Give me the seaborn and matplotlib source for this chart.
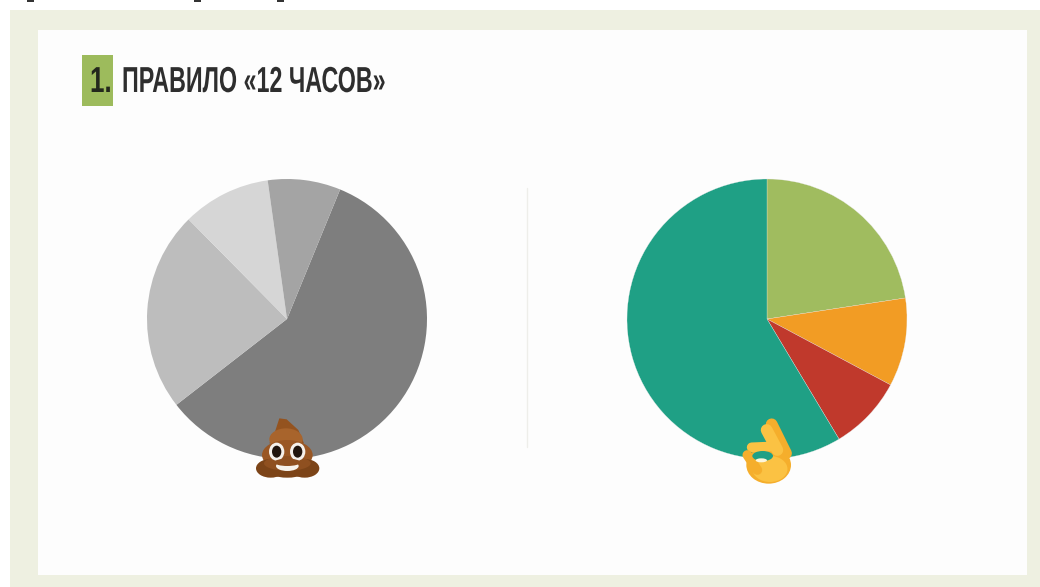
import matplotlib
matplotlib.use("Agg")
import matplotlib.pyplot as plt
from matplotlib.patches import Rectangle, Ellipse, Polygon
from matplotlib.patheffects import AbstractPathEffect
from matplotlib.transforms import Affine2D
import seaborn as sns

sns.set_theme(style="white")
plt.rcParams['font.family'] = ['Liberation Sans', 'DejaVu Sans']

HEADING_NUM = "1."
HEADING = "ПРАВИЛО «12 ЧАСОВ»"
bad_values = [58.3, 23.1, 10.2, 8.4]
bad_colors = ["#7e7e7e", "#bdbdbd", "#d6d6d6", "#a4a4a4"]
good_values = [22.6, 10.2, 8.6, 58.6]
good_colors = ["#a0bc5f", "#f29c24", "#c0392c", "#1fa085"]

W, H = 1040, 587
fig = plt.figure(figsize=(W / 100, H / 100), dpi=100, facecolor="white")
ax = fig.add_axes([0, 0, 1, 1])
ax.set_axis_off()


def Y(y):
    return H - y


class Narrow(AbstractPathEffect):
    """Squeeze the glyphs of a real text horizontally about x0 (pixels)."""

    def __init__(self, x0, sx):
        super().__init__()
        self.x0, self.sx = x0, sx

    def draw_path(self, renderer, gc, tpath, affine, rgbFace=None):
        squeeze = Affine2D().translate(-self.x0, 0).scale(self.sx, 1).translate(self.x0, 0)
        renderer.draw_path(gc, tpath, affine + squeeze, rgbFace)


ax.add_patch(Rectangle((10, Y(587)), 1030, 577, fc="#eef0e1", ec="none", zorder=0))
ax.add_patch(Rectangle((38, Y(575)), 989, 545, fc="#fdfdfd", ec="none", zorder=1))
for xp in (30, 197, 280):
    ax.add_patch(Rectangle((xp - 3, Y(2)), 7, 2, fc="#333333", ec="none", zorder=1))

ax.add_patch(Rectangle((82, Y(106)), 31, 51, fc="#9dbb5c", ec="none", zorder=2))
ax.text(90, Y(92), HEADING_NUM, fontsize=26, fontweight="bold", color="#23281c",
        ha="left", va="baseline", zorder=3, path_effects=[Narrow(90, 0.72)])
ax.text(122, Y(92), HEADING, fontsize=26, fontweight="bold", color="#2e2e2e",
        ha="left", va="baseline", zorder=3, path_effects=[Narrow(122, 0.645)])

ax.pie(bad_values, colors=bad_colors, center=(287, Y(319)), radius=140,
       startangle=67.7, counterclock=False, frame=True,
       wedgeprops=dict(linewidth=0, zorder=2))
ax.pie(good_values, colors=good_colors, center=(767, Y(319)), radius=140,
       startangle=90, counterclock=False, frame=True,
       wedgeprops=dict(linewidth=0.2, edgecolor="#e8e8e8", zorder=2))
ax.plot([527, 527], [Y(188), Y(447)], color="#eeeeea", lw=1, zorder=2)


def P(zx, zy):
    return 230 + zx / 3, Y(400 + zy / 3)


def ell(pt, zx, zy, w, h, c, z=5):
    x, y = pt(zx, zy)
    ax.add_patch(Ellipse((x, y), w / 3, h / 3, fc=c, ec="none", zorder=z))


# poop emoji
ax.add_patch(Polygon([P(148, 55), P(170, 58), P(205, 90), P(222, 130), P(118, 130), P(135, 95)],
                     closed=True, fc="#94531f", ec="none", zorder=5))
ell(P, 168, 118, 100, 66, "#a8642c")
ell(P, 172, 165, 152, 90, "#9a5724")
ell(P, 122, 205, 88, 56, "#7c4418")
ell(P, 224, 205, 88, 56, "#7c4418")
ell(P, 172, 208, 130, 50, "#7c4418")
ell(P, 172, 190, 140, 44, "#8f5020", 5.5)
for zx in (140, 203):
    ell(P, zx, 155, 46, 54, "#f5f0ea", 6)
    ell(P, zx, 155, 28, 36, "#21140c", 7)
ell(P, 172, 198, 68, 30, "#f7f3ec", 6.5)
ell(P, 172, 187, 78, 22, "#8f5020", 6.6)


def Q(zx, zy):
    return 720 + zx / 3, Y(405 + zy / 3)


# ok hand emoji
hand = "#fbc243"
shade = "#f5ae2c"
ell(Q, 146, 180, 134, 112, shade)
ell(Q, 150, 192, 105, 78, hand, 5.2)
for a, b, c in [((155, 58), (198, 145), shade), ((140, 75), (172, 135), hand)]:
    ax.plot(*zip(Q(*a), Q(*b)), color=c, lw=8.5, solid_capstyle="round", zorder=5.4)
ax.plot(*zip(Q(95, 127), Q(165, 124)), color=hand, lw=7, solid_capstyle="round", zorder=5.4)
ax.plot(*zip(Q(82, 150), Q(112, 195)), color=shade, lw=7, solid_capstyle="round", zorder=5.4)
ell(Q, 128, 153, 62, 30, "#1fa085", 6)
ell(Q, 124, 166, 34, 12, "#fdf6dc", 6.5)

ax.set_xlim(0, W)
ax.set_ylim(0, H)
ax.set_aspect("auto")
fig.savefig("out.png", dpi=100, facecolor="white")
